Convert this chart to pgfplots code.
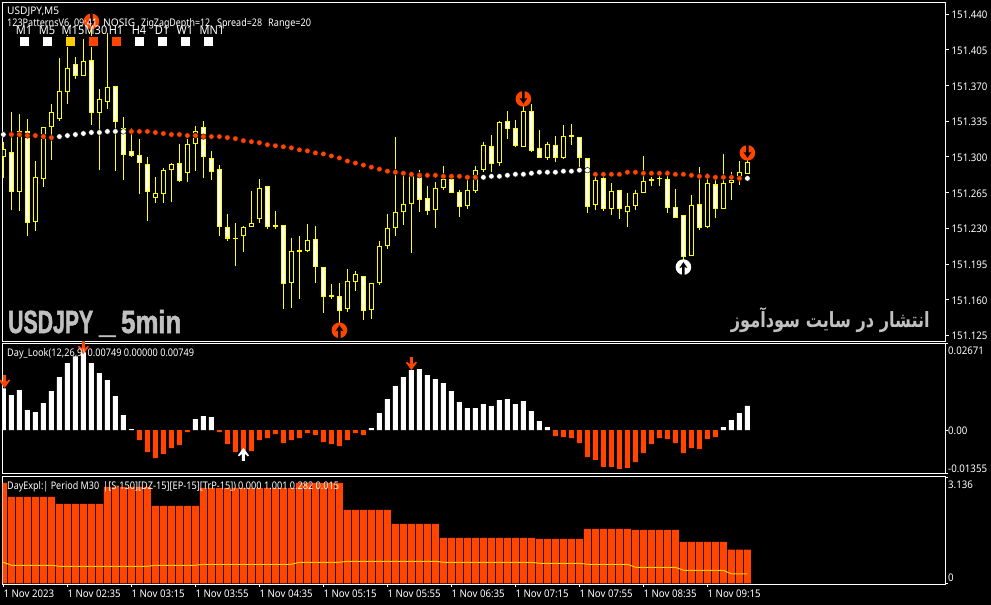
\documentclass[border=0pt]{standalone}
\usepackage{fontspec}
\usepackage{graphicx}
\usepackage{pgfplots}
\usepackage{pgfplotstable}
\pgfplotsset{compat=1.18}
\TeXXeTstate=1
\setmainfont{Noto Sans}[FakeStretch=0.92]
\newfontfamily\impactfont{Liberation Sans}[FakeStretch=0.74,FakeBold=1.6]
\newfontfamily\arabicfont[Script=Arabic]{DejaVu Sans}
\newcommand{\mt}{\fontsize{10.5bp}{12bp}\selectfont}

\definecolor{ored}{HTML}{FF4500}
\definecolor{gold}{HTML}{FFCC00}
\definecolor{candle}{HTML}{FFFF00}
\definecolor{wm}{HTML}{C0C0C0}

% bearish candles, white body
\pgfplotstableread{
i h l t b
1 151.344 151.248 151.305 151.266
3 151.337 151.222 151.325 151.235
9 151.398 151.376 151.391 151.379
11 151.434 151.331 151.395 151.343
14 151.370 151.286 151.370 151.334
15 151.339 151.277 151.328 151.302
16 151.328 151.300 151.306 151.301
17 151.318 151.264 151.302 151.294
18 151.300 151.237 151.293 151.266
22 151.313 151.275 151.294 151.276
25 151.335 151.279 151.329 151.300
26 151.306 151.277 151.299 151.285
27 151.292 151.222 151.288 151.231
28 151.244 151.218 151.231 151.220
33 151.272 151.229 151.272 151.231
35 151.233 151.151 151.233 151.175
39 151.232 151.176 151.220 151.192
40 151.192 151.147 151.192 151.163
42 151.176 151.130 151.164 151.149
45 151.183 151.140 151.183 151.149
52 151.287 151.246 151.284 151.258
53 151.272 151.243 151.260 151.247
56 151.282 151.265 151.278 151.265
57 151.268 151.241 151.266 151.251
61 151.322 151.285 151.311 151.293
63 151.345 151.318 151.335 151.327
64 151.336 151.310 151.328 151.311
66 151.352 151.305 151.345 151.306
67 151.326 151.299 151.309 151.299
69 151.321 151.295 151.312 151.299
72 151.320 151.284 151.320 151.299
73 151.299 151.245 151.299 151.251
75 151.283 151.247 151.279 151.249
77 151.268 151.239 151.268 151.249
83 151.287 151.245 151.278 151.250
84 151.269 151.240 151.251 151.240
85 151.243 151.192 151.243 151.202
87 151.290 151.228 151.254 151.230
89 151.279 151.240 151.273 151.249
}\bear

% bullish candles, black body
\pgfplotstableread{
i h l t b
0 151.315 151.279 151.308 151.300
2 151.342 151.247 151.325 151.266
4 151.296 151.227 151.280 151.236
5 151.329 151.271 151.329 151.278
6 151.352 151.297 151.344 151.329
7 151.397 151.335 151.365 151.337
8 151.420 151.352 151.387 151.364
10 151.416 151.379 151.394 151.379
12 151.367 151.287 151.357 151.343
13 151.422 151.347 151.369 151.354
19 151.280 151.255 151.265 151.260
20 151.289 151.255 151.287 151.264
21 151.294 151.256 151.293 151.287
23 151.318 151.275 151.313 151.284
24 151.330 151.286 151.325 151.313
29 151.235 151.193 151.221 151.220
30 151.232 151.207 151.231 151.222
31 151.267 151.231 151.235 151.231
32 151.278 151.235 151.270 151.239
34 151.247 151.229 151.233 151.231
36 151.221 151.152 151.208 151.176
37 151.222 151.161 151.209 151.207
38 151.234 151.207 151.219 151.208
41 151.175 151.161 151.165 151.163
43 151.190 151.148 151.178 151.151
44 151.188 151.169 151.185 151.177
46 151.176 151.141 151.176 151.150
47 151.218 151.174 151.213 151.176
48 151.244 151.210 151.230 151.213
49 151.320 151.222 151.246 151.230
50 151.284 151.233 151.254 151.246
51 151.284 151.206 151.281 151.254
54 151.275 151.230 151.270 151.248
55 151.291 151.268 151.278 151.270
58 151.277 151.249 151.268 151.252
59 151.291 151.265 151.287 151.267
60 151.315 151.285 151.312 151.287
62 151.335 151.291 151.334 151.294
65 151.357 151.310 151.345 151.310
68 151.315 151.297 151.313 151.299
70 151.331 151.298 151.321 151.299
71 151.332 151.312 151.322 151.320
74 151.283 151.248 151.277 151.253
76 151.274 151.243 151.267 151.249
78 151.265 151.231 151.252 151.246
79 151.268 151.248 151.265 151.252
80 151.301 151.265 151.276 151.265
81 151.280 151.272 151.278 151.276
82 151.284 151.272 151.279 151.278
86 151.263 151.203 151.253 151.203
88 151.284 151.230 151.274 151.231
90 151.303 151.249 151.274 151.249
91 151.285 151.258 151.277 151.274
92 151.296 151.272 151.285 151.280
93 151.304 151.283 151.295 151.283
}\bull

% moving average dots
\pgfplotstableread{
i y
1 151.322
2 151.322
3 151.321
4 151.321
5 151.320
6 151.319
16 151.325
17 151.325
18 151.325
19 151.324
20 151.323
21 151.322
22 151.322
23 151.321
24 151.321
25 151.320
26 151.320
27 151.320
28 151.319
29 151.318
30 151.316
31 151.315
32 151.314
33 151.312
34 151.311
35 151.310
36 151.309
37 151.307
38 151.306
39 151.304
40 151.303
41 151.301
42 151.299
43 151.296
44 151.294
45 151.292
46 151.290
47 151.288
48 151.286
49 151.285
50 151.284
51 151.283
52 151.282
53 151.282
54 151.282
55 151.281
56 151.281
57 151.281
58 151.280
59 151.280
74 151.283
75 151.283
76 151.283
77 151.283
78 151.285
79 151.285
80 151.284
81 151.284
82 151.284
83 151.284
84 151.283
85 151.283
86 151.282
87 151.281
88 151.281
89 151.280
90 151.280
91 151.280
92 151.279
}\mared
\pgfplotstableread{
i y
0 151.322
7 151.320
8 151.321
9 151.322
10 151.323
11 151.324
12 151.324
13 151.325
14 151.325
15 151.325
60 151.280
61 151.281
62 151.281
63 151.282
64 151.283
65 151.283
66 151.284
67 151.285
68 151.285
69 151.285
70 151.286
71 151.286
72 151.287
73 151.287
93 151.279
}\mawhite

% oscillator histogram
\pgfplotstableread{
i v
0 0.01283
1 0.01077
2 0.01231
3 0.00615
4 0.00554
5 0.00831
6 0.01200
7 0.01631
8 0.02062
9 0.02277
10 0.02400
11 0.02062
12 0.01754
13 0.01538
14 0.01046
15 0.00462
16 0.00031
24 0.00338
25 0.00431
26 0.00400
46 0.00062
47 0.00523
48 0.00954
49 0.01354
50 0.01631
51 0.01846
52 0.01877
53 0.01692
54 0.01569
55 0.01446
56 0.01200
57 0.00862
58 0.00677
59 0.00677
60 0.00800
61 0.00738
62 0.00923
63 0.00954
64 0.00800
65 0.00892
66 0.00585
67 0.00277
68 0.00092
90 0.00092
91 0.00308
92 0.00523
93 0.00749
}\oscup
\pgfplotstableread{
i v
17 -0.00308
18 -0.00677
19 -0.00862
20 -0.00738
21 -0.00554
22 -0.00462
23 -0.00062
27 -0.00062
28 -0.00431
29 -0.00677
30 -0.00677
31 -0.00646
32 -0.00308
33 -0.00246
34 -0.00123
35 -0.00400
36 -0.00308
37 -0.00246
38 -0.00092
39 -0.00154
40 -0.00369
41 -0.00431
42 -0.00492
43 -0.00308
44 -0.00092
45 -0.00154
69 -0.00185
70 -0.00215
71 -0.00246
72 -0.00400
73 -0.00831
74 -0.00923
75 -0.01138
76 -0.01138
77 -0.01200
78 -0.01169
79 -0.00985
80 -0.00708
81 -0.00431
82 -0.00246
83 -0.00277
84 -0.00400
85 -0.00708
86 -0.00554
87 -0.00585
88 -0.00277
89 -0.00215
}\oscdn

% third panel bars
\pgfplotstableread{
i v
0 2.979
1 2.564
2 2.564
3 2.564
4 2.564
5 2.564
6 2.564
7 2.356
8 2.356
9 2.356
10 2.356
11 2.356
12 2.356
13 2.861
14 2.861
15 2.861
16 2.861
17 2.861
18 2.861
19 2.297
20 2.297
21 2.297
22 2.297
23 2.297
24 2.297
25 2.831
26 2.831
27 2.831
28 2.831
29 2.831
30 2.831
31 2.831
32 2.831
33 2.831
34 2.831
35 2.831
36 2.831
37 2.979
38 2.979
39 2.979
40 2.979
41 2.979
42 2.979
43 2.178
44 2.178
45 2.178
46 2.178
47 2.178
48 2.178
49 1.763
50 1.763
51 1.763
52 1.763
53 1.763
54 1.763
55 1.347
56 1.347
57 1.347
58 1.347
59 1.347
60 1.347
61 1.347
62 1.347
63 1.347
64 1.347
65 1.347
66 1.347
67 1.317
68 1.317
69 1.317
70 1.317
71 1.317
72 1.317
73 1.614
74 1.614
75 1.614
76 1.614
77 1.614
78 1.614
79 1.585
80 1.585
81 1.585
82 1.585
83 1.585
84 1.585
85 1.228
86 1.228
87 1.228
88 1.228
89 1.228
90 1.228
91 1.001
92 1.001
93 1.001
}\expl

\newcommand{\pp}[2]{\pgfpoint{#1bp}{#2bp}}
\pgfdeclareplotmark{sigdn}{%
  \pgfsetfillcolor{ored}\pgfpathcircle{\pgfpointorigin}{7.8bp}\pgfusepathqfill
  \pgfsetfillcolor{black}
  \pgfpathmoveto{\pp{-1.2}{7.8}}\pgfpathlineto{\pp{1.2}{7.8}}\pgfpathlineto{\pp{1.2}{0}}
  \pgfpathlineto{\pp{4}{1}}\pgfpathlineto{\pp{0}{-5}}\pgfpathlineto{\pp{-4}{1}}
  \pgfpathlineto{\pp{-1.2}{0}}\pgfpathclose\pgfusepathqfill}
\pgfdeclareplotmark{sigup}{%
  \pgfsetfillcolor{white}\pgfpathcircle{\pgfpointorigin}{7.8bp}\pgfusepathqfill
  \pgfsetfillcolor{black}
  \pgfpathmoveto{\pp{-1.2}{-7.8}}\pgfpathlineto{\pp{1.2}{-7.8}}\pgfpathlineto{\pp{1.2}{0}}
  \pgfpathlineto{\pp{4}{-1}}\pgfpathlineto{\pp{0}{5}}\pgfpathlineto{\pp{-4}{-1}}
  \pgfpathlineto{\pp{-1.2}{0}}\pgfpathclose\pgfusepathqfill}
\pgfdeclareplotmark{arrdn}{%
  \pgfsetfillcolor{ored}
  \pgfpathmoveto{\pp{-1.5}{6.5}}\pgfpathlineto{\pp{1.5}{6.5}}\pgfpathlineto{\pp{1.5}{-0.5}}
  \pgfpathlineto{\pp{4.5}{2}}\pgfpathlineto{\pp{5.5}{1}}\pgfpathlineto{\pp{0}{-6.5}}
  \pgfpathlineto{\pp{-5.5}{1}}\pgfpathlineto{\pp{-4.5}{2}}\pgfpathlineto{\pp{-1.5}{-0.5}}
  \pgfpathclose\pgfusepathqfill}
\pgfdeclareplotmark{arrup}{%
  \pgfsetfillcolor{white}
  \pgfpathmoveto{\pp{-1.5}{-6.5}}\pgfpathlineto{\pp{1.5}{-6.5}}\pgfpathlineto{\pp{1.5}{0.5}}
  \pgfpathlineto{\pp{4.5}{-2}}\pgfpathlineto{\pp{5.5}{-1}}\pgfpathlineto{\pp{0}{6.5}}
  \pgfpathlineto{\pp{-5.5}{-1}}\pgfpathlineto{\pp{-4.5}{-2}}\pgfpathlineto{\pp{-1.5}{0.5}}
  \pgfpathclose\pgfusepathqfill}

\pgfplotsset{
  panel/.style={
    scale only axis, anchor=south west, width=943bp,
    xmin=-0.1125, xmax=117.76,
    scaled y ticks=false,
    axis line style={white, line width=1bp},
    tick style={white, line width=1bp},
    tick align=outside,
    ticklabel style={white, inner sep=0pt},
    yticklabel style={anchor=west, font=\mt, yshift=-0.8bp},
    xticklabel style={anchor=north west, font=\mt, yshift=-3bp},
    ytick pos=right, yticklabel pos=right,
    xtick pos=lower,
    major tick length=2.5bp,
    clip=true,
  },
  wick/.style={
    forget plot, draw=none, mark=none,
    error bars/y dir=minus, error bars/y explicit, error bars/error mark=none,
    error bars/error bar style={color=candle, line width=1bp, solid}},
  bodyo/.style={wick, error bars/error bar style={color=candle, line width=5bp, solid}},
  bodyi/.style={wick, error bars/error bar style={color=#1, line width=3bp, solid}},
  dots/.style={only marks, mark=*, mark size=2.8bp, mark options={draw=none, fill=#1}},
  hist/.style={ybar, bar width=#1, /pgf/bar shift=0pt, draw=none},
}
\newcommand{\candles}[2]{%
  \addplot[wick] table[x=i, y=h, y error minus expr=\thisrow{h}-\thisrow{l}] {#1};
  \addplot[bodyo] table[x=i, y=t, y error minus expr=\thisrow{t}-\thisrow{b}] {#1};
  \addplot[bodyi=#2] table[x=i, y expr=\thisrow{t}-0.001, y error minus expr={max(\thisrow{t}-\thisrow{b}-0.002,0)}] {#1};
}
% a label squeezed to the width it has in the terminal font
\newsavebox{\fitbox}
\newcommand{\wfit}[2]{\sbox{\fitbox}{#2}\pgfmathsetmacro{\fitr}{#1*1.00375/\the\wd\fitbox}\scalebox{\fitr}[1]{\usebox{\fitbox}}}
\newcommand{\lbl}[4][\mt]{\node[anchor=base west, inner sep=0pt, text=white, font=#1] at ({#2*1bp},{(605-#3)*1bp}) {#4};}

\begin{document}
\begin{tikzpicture}
\useasboundingbox (0,0) rectangle (991bp,605bp);
\fill[black] (0,0) rectangle (991bp,605bp);

% price panel
\begin{axis}[panel, at={(2.5bp,263.5bp)}, height=339bp,
  ymin=151.119, ymax=151.4515,
  xtick=\empty,
  ytick={151.125,151.160,151.195,151.230,151.265,151.300,151.335,151.370,151.405,151.440},
  yticklabels={151.125,151.160,151.195,151.230,151.265,151.300,151.335,151.370,151.405,151.440},
  major tick length=3bp,
  yticklabel style={xshift=3bp},
]
\addplot[only marks, mark=sigdn] coordinates {(11,151.433)(65,151.357)(93,151.304)};
\addplot[only marks, mark=sigdn, mark options={rotate=180}] coordinates {(42,151.130)};
\addplot[only marks, mark=sigup] coordinates {(85,151.192)};
\candles{\bear}{white}
\candles{\bull}{black}
\addplot[dots=ored] table[x=i, y=y] {\mared};
\addplot[dots=white] table[x=i, y=y] {\mawhite};
% timeframe squares
\addplot[only marks, mark=square*, mark size=5bp, mark options={draw=none, fill=white}]
  coordinates {(2.575,151.4135)(5.45,151.4135)(16.95,151.4135)(19.825,151.4135)(22.7,151.4135)(25.575,151.4135)};
\addplot[only marks, mark=square*, mark size=5bp, mark options={draw=none, fill=gold}]
  coordinates {(8.325,151.4135)};
\addplot[only marks, mark=square*, mark size=5bp, mark options={draw=none, fill=ored}]
  coordinates {(11.2,151.4135)(14.075,151.4135)};
\end{axis}

% oscillator panel
\begin{axis}[panel, at={(2.5bp,131bp)}, height=130.5bp,
  ymin=-0.01355, ymax=0.02671,
  xtick=\empty,
  ytick={-0.01355,0,0.02671},
  yticklabels={\raisebox{2.6bp}[0pt][0pt]{-0.01355},0.00,\raisebox{-10.7bp}[0pt][0pt]{0.02671}},
]
\addplot[hist=5bp, fill=white] table[x=i, y=v] {\oscup};
\addplot[hist=5bp, fill=ored] table[x=i, y=v] {\oscdn};
\addplot[only marks, mark=arrdn] coordinates {(0.15,0.0150)(10,0.0254)(51,0.0205)};
\addplot[only marks, mark=arrup] coordinates {(30,-0.0075)};
\end{axis}

% expert panel
\begin{axis}[panel, at={(2.5bp,21bp)}, height=107.5bp,
  ymin=-0.018, ymax=3.169,
  xtick={0,8,...,88},
  xticklabels={1 Nov 2023,1 Nov 02:35,1 Nov 03:15,1 Nov 03:55,1 Nov 04:35,1 Nov 05:15,1 Nov 05:55,1 Nov 06:35,1 Nov 07:15,1 Nov 07:55,1 Nov 08:35,1 Nov 09:15},
  ytick={0,3.136},
  yticklabels={\raisebox{2.7bp}[0pt][0pt]{0},\raisebox{-10.2bp}[0pt][0pt]{3.136}},
]
\addplot[hist=7bp, fill=ored] table[x=i, y=v] {\expl};
\addplot[gold, line width=1bp, no marks] coordinates {
  (0,0.626)(1,0.537)(6,0.537)(7,0.507)(18,0.507)(19,0.537)(24,0.537)(25,0.567)(36,0.567)
  (37,0.626)(42,0.626)(43,0.656)(54,0.656)(55,0.626)(66,0.626)(67,0.596)(72,0.596)
  (73,0.567)(78,0.567)(79,0.478)(84,0.478)(85,0.389)(90,0.389)(91,0.282)(93,0.282)};
\end{axis}

% window captions
\lbl{7}{14.5}{\wfit{52}{USDJPY,M5}}
\lbl{7}{27}{\wfit{90}{123PatternsV6, 09:41}}
\lbl{103}{27}{\wfit{32}{NOSIG}}
\lbl{141}{27}{\wfit{69}{ZigZagDepth=12}}
\lbl{217}{27}{\wfit{45}{Spread=28}}
\lbl{268}{27}{\wfit{43}{Range=20}}
\foreach \x/\s in {24/M1,47/M5,73/M15,96/M30,116/H1,139/H4,162/D1,185/W1,212/MN1}{
  \node[anchor=base, inner sep=0pt, text=white, font=\fontsize{12bp}{13bp}\selectfont] at ({\x*1bp},{(605-34.5)*1bp}) {\s};
}
\lbl{7}{356}{\wfit{187}{Day\_Look(12,26,9) 0.00749 0.00000 0.00749}}
\lbl{7}{489}{\wfit{92}{DayExpl:| Period M30}}
\lbl{103}{489}{\wfit{133}{|[S-150][DZ-15][EP-15][TrP-15])}}
\lbl{238}{489}{\wfit{101}{0.000 1.001 0.282 0.015}}

\begin{scope}[every node/.style={text=wm}]
\node[anchor=base west, inner sep=0pt, font=\impactfont\bfseries\fontsize{32bp}{34bp}\selectfont] at (8bp,{(605-333)*1bp}) {\wfit{85}{USDJPY}};
\node[anchor=base west, inner sep=0pt, font=\impactfont\bfseries\fontsize{32bp}{34bp}\selectfont] at (99bp,{(605-333)*1bp}) {\wfit{16}{\_}};
\node[anchor=base west, inner sep=0pt, font=\impactfont\bfseries\fontsize{32bp}{34bp}\selectfont] at (121bp,{(605-333)*1bp}) {\wfit{60}{5min}};
\node[anchor=base east, inner sep=0pt, font=\fontsize{21bp}{24bp}\selectfont] at (930bp,{(605-327)*1bp}) {\wfit{199}{\arabicfont\bfseries\beginR انتشار در سایت سودآموز\endR}};
\end{scope}
\end{tikzpicture}
\end{document}
